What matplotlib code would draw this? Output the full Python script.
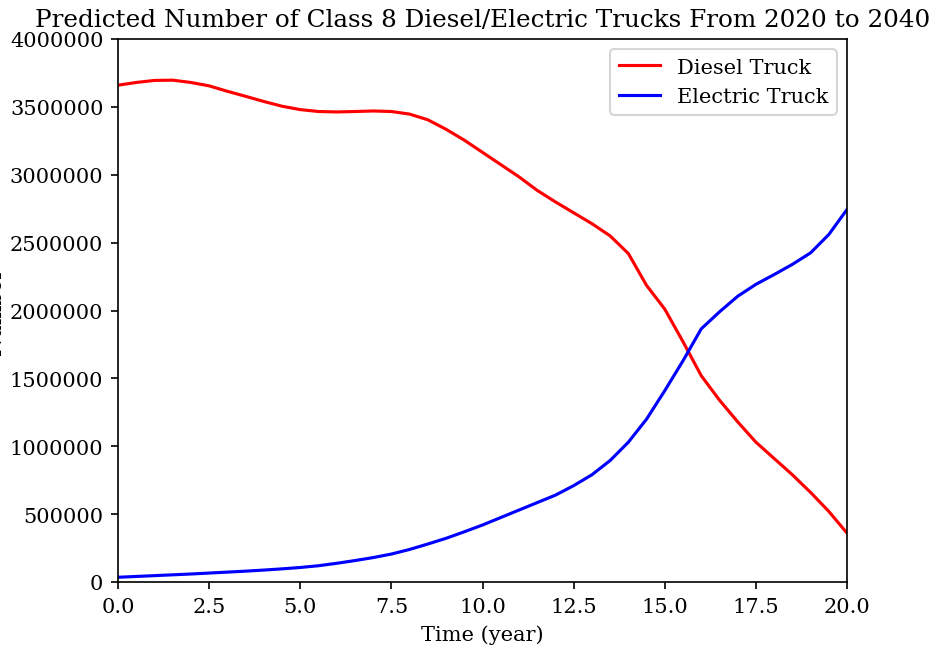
import matplotlib
matplotlib.use("Agg")
import matplotlib.pyplot as plt

# values at half-year steps
years = [0, 0.5, 1, 1.5, 2, 2.5, 3, 3.5, 4, 4.5, 5, 5.5, 6, 6.5, 7, 7.5, 8, 8.5, 9, 9.5,
         10, 10.5, 11, 11.5, 12, 12.5, 13, 13.5, 14, 14.5, 15, 15.5, 16, 16.5, 17, 17.5,
         18, 18.5, 19, 19.5, 20]
diesel = [3660000, 3680000, 3695000, 3697000, 3680000, 3655000, 3615000, 3578000,
          3540000, 3505000, 3480000, 3466000, 3463000, 3466000, 3470000, 3466000,
          3447000, 3405000, 3335000, 3255000, 3165000, 3075000, 2985000, 2885000,
          2800000, 2720000, 2640000, 2550000, 2420000, 2185000, 2010000, 1770000,
          1520000, 1340000, 1180000, 1030000, 910000, 790000, 660000, 520000, 360000]
electric = [35000, 41000, 47000, 53000, 59000, 66000, 73000, 80000, 88000, 97000,
            107000, 120000, 138000, 158000, 180000, 206000, 240000, 280000, 322000,
            370000, 420000, 475000, 530000, 585000, 640000, 710000, 790000, 895000,
            1030000, 1200000, 1410000, 1630000, 1865000, 1990000, 2105000, 2193000,
            2265000, 2340000, 2425000, 2560000, 2745000]

plt.rcParams['font.family'] = 'DejaVu Serif'

fig = plt.figure(figsize=(6.2, 4.313), dpi=150)
ax = fig.add_axes([0.1269, 0.0989, 0.7839, 0.8393])
ax.plot(years, diesel, color='red', label='Diesel Truck')
ax.plot(years, electric, color='blue', label='Electric Truck')
ax.set_xlim(0, 20)
ax.set_ylim(0, 4000000)
ax.ticklabel_format(axis='y', style='plain')
ax.set_xlabel('Time (year)')
ax.set_ylabel('Number')
ax.yaxis.set_label_coords(-0.155, 0.5)
ax.set_title('Predicted Number of Class 8 Diesel/Electric Trucks From 2020 to 2040',
             fontsize=11.8)
ax.legend(loc='upper right')

fig.savefig('out.png', dpi=150)
